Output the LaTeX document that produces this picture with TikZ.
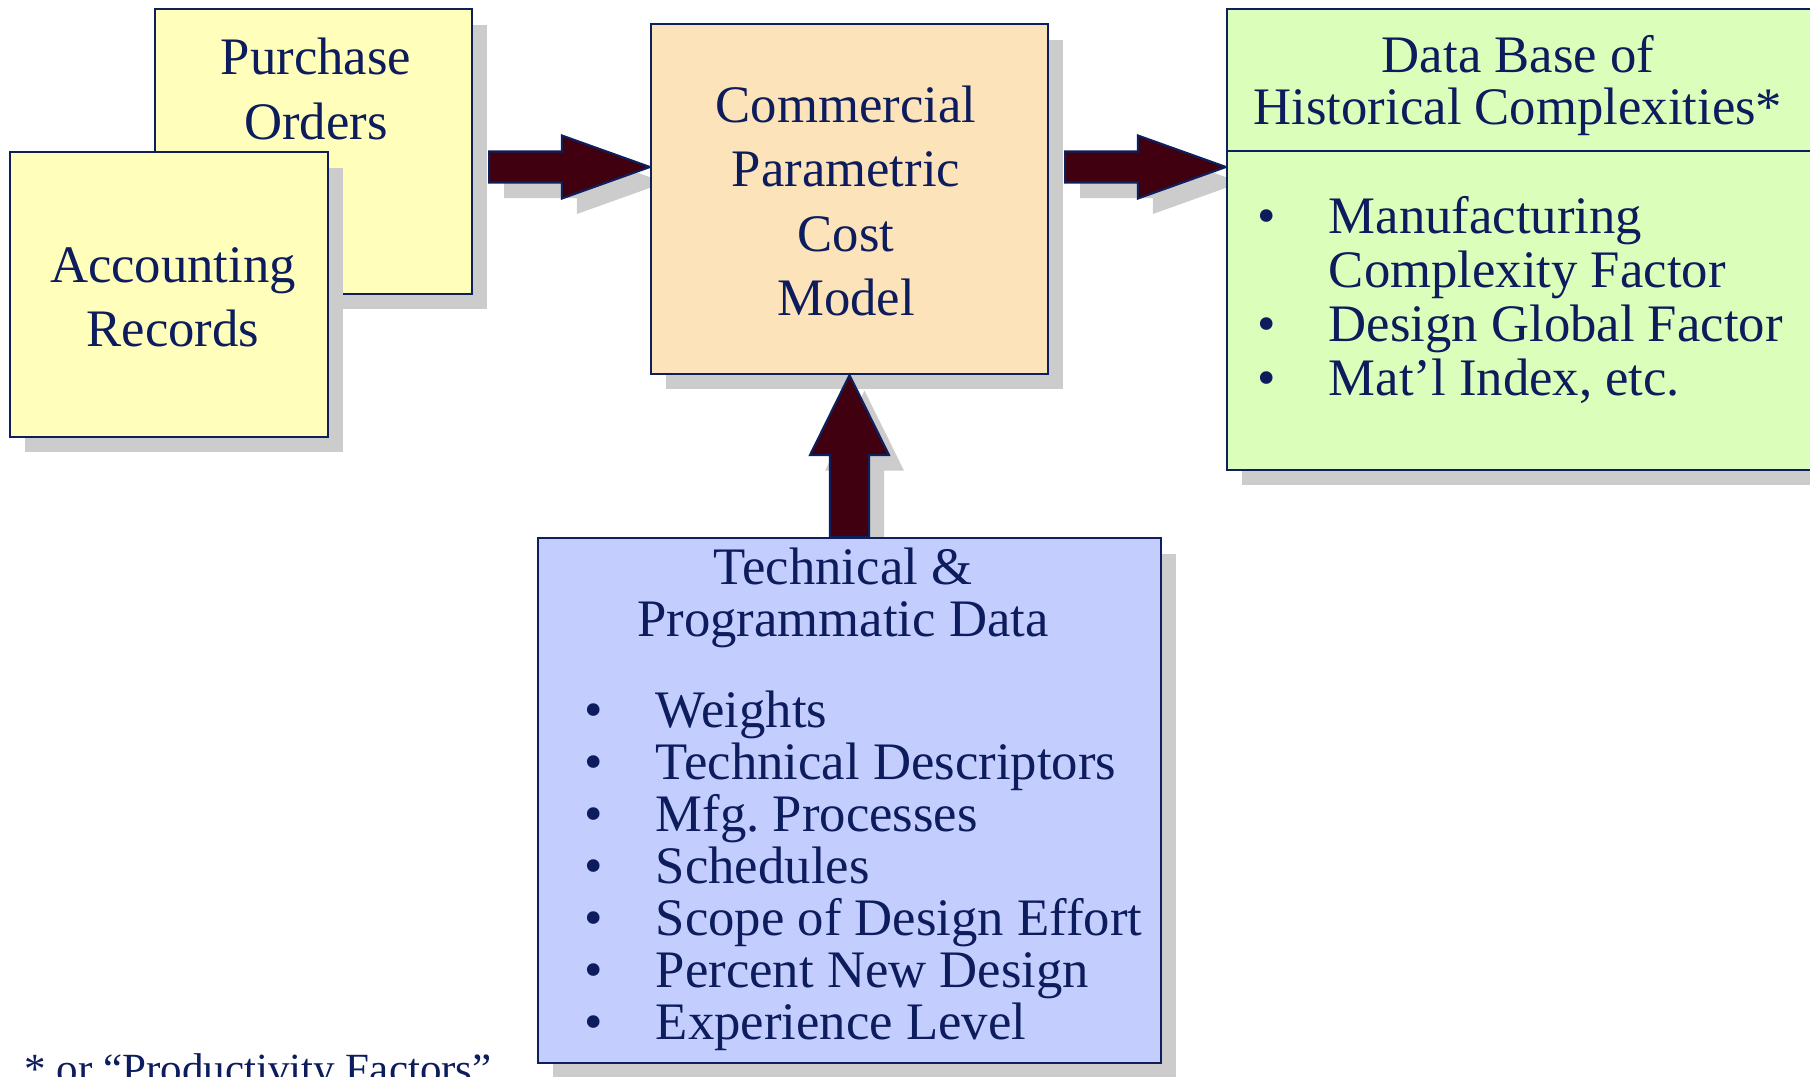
\documentclass[tikz,border=0pt]{standalone}
\usepackage{fontspec}
\setmainfont{Liberation Serif}
\usetikzlibrary{calc, shadows, positioning}

\pgfdeclarelayer{behind}
\pgfsetlayers{behind,main}

\definecolor{inkblue}{HTML}{0C1C5C}
\definecolor{lineblue}{HTML}{0F1F5E}
\definecolor{poyellow}{HTML}{FFFFBB}
\definecolor{modelpeach}{HTML}{FCE3BA}
\definecolor{dbgreen}{HTML}{DBFFBA}
\definecolor{techblue}{HTML}{C3CDFE}
\definecolor{arrowred}{HTML}{40000F}
\definecolor{shadowgray}{HTML}{CCCCCC}

\newcommand{\bulitem}{\makebox[1.43cm][l]{\textbullet}}
\newcommand{\bulgap}{\hspace*{1.43cm}}
\frenchspacing

\begin{document}
\begin{tikzpicture}[
    x=0.02cm, y=-0.02cm,
    boxshadow/.style={drop shadow={shadow xshift=0.3cm, shadow yshift=-0.31cm, fill=shadowgray, opacity=1}},
    box/.style={draw=lineblue, line width=1.3pt, inner sep=0, boxshadow},
    txt/.style={text=inkblue, align=center, inner sep=0, font=\fontsize{30}{36.5}\selectfont},
    lst/.style={txt, align=left, font=\fontsize{30}{29.6}\selectfont},
    blockarrow/.style n args={3}{draw=lineblue, line width=1.2pt, fill=arrowred, boxshadow,
      to path={let \p1=(\tikztostart), \p2=(\tikztotarget), \p3=($(\p2)!#3!(\p1)$) in
        ($(\p1)!#1!90:(\p2)$) -- ($(\p3)!#1!90:(\p2)$) -- ($(\p3)!#2!90:(\p2)$) -- (\p2)
        -- ($(\p3)!#2!-90:(\p2)$) -- ($(\p3)!#1!-90:(\p2)$) -- ($(\p1)!#1!-90:(\p2)$) -- cycle}},
    ]
\useasboundingbox (0,0) rectangle (1810,1076);

% Sources
\node[box, fill=poyellow, minimum width=6.34cm, minimum height=5.7cm] (po) at (313.5,151.5) {};
\node[txt] (potext) at (316,89) {Purchase\\Orders};
\node[box, fill=poyellow, minimum width=6.36cm, minimum height=5.7cm] (ar) at (169,294.5) {};
\node[txt] (artext) at (173,297) {Accounting\\Records};

% Modele
\node[box, fill=modelpeach, minimum width=7.94cm, minimum height=7cm] (cm) at (849.5,199) {};
\node[txt] (cmtext) at (846,201) {Commercial\\Parametric\\Cost\\Model};

% Base de donnees
\node[box, fill=dbgreen, minimum width=12.06cm, minimum height=9.22cm] (db) at (1528.5,239.5) {};
\draw[lineblue, line width=1.3pt] ($(db.north west)+(0,143)$) -- ($(db.north east)+(0,143)$);
\node[txt, font=\fontsize{30}{29.6}\selectfont] (dbhead) at (1518,86) {Data Base of\\Historical Complexities*};
\node[lst, font=\fontsize{30}{30.8}\selectfont, anchor=west] (dblist) at (1257,300)
  {\bulitem Manufacturing\\\bulgap Complexity Factor\\\bulitem Design Global Factor\\\bulitem Mat'l Index, etc.};

% Fleches horizontales
\begin{pgfonlayer}{behind}
\path[blockarrow={0.31cm}{0.63cm}{1.76cm}] ([shift={(16,15.5)}]po.east) to ([shift={(0,-32)}]cm.west);
\path[blockarrow={0.31cm}{0.63cm}{1.76cm}] ([shift={(16,-32)}]cm.east) to ([shift={(0,-72.5)}]db.west);
\end{pgfonlayer}

% Fleche verticale
\coordinate (tdtop) at (849.5,537);
\path[blockarrow={0.39cm}{0.79cm}{1.6cm}] (tdtop) to (cm.south);

% Donnees techniques
\node[box, fill=techblue, minimum width=12.46cm, minimum height=10.5cm, anchor=north] (td) at (tdtop) {};
\node[txt, font=\fontsize{30}{29.6}\selectfont] (tdhead) at (843,598) {Technical \&\\Programmatic Data};
\node[lst, anchor=west] (tdlist) at (584,871)
  {\bulitem Weights\\\bulitem Technical Descriptors\\\bulitem Mfg. Processes\\\bulitem Schedules\\
   \bulitem Scope of Design Effort\\\bulitem Percent New Design\\\bulitem Experience Level};

% Note
\node[txt, font=\fontsize{24.5}{29}\selectfont, anchor=base west] (note) at (24,1083) {* or “Productivity Factors”};

\end{tikzpicture}
\end{document}
